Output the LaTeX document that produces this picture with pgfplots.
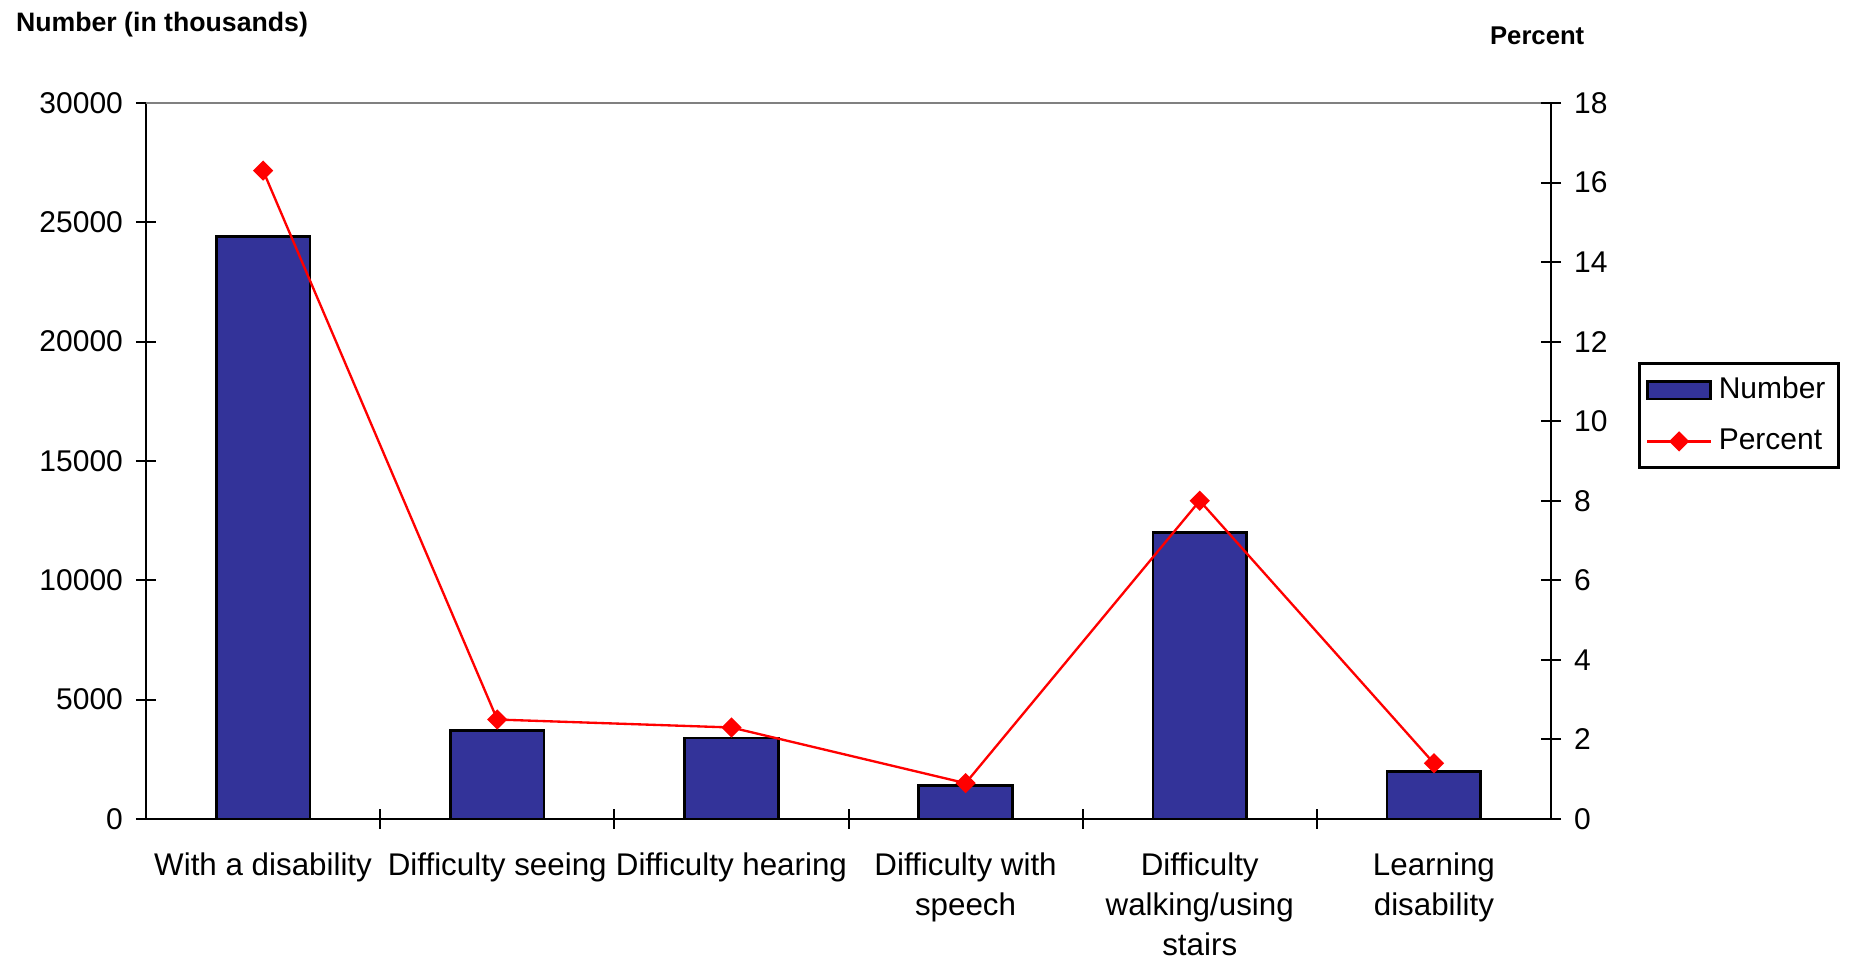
\documentclass[border=0pt]{standalone}
\usepackage{pgfplots}
\pgfplotsset{compat=1.18}
\usepackage{fontspec}
\setmainfont{Liberation Sans}
\definecolor{barblue}{RGB}{51,51,153}
\pgfplotsset{
  barleg/.style={legend image code/.code={\draw[##1] (0pt,-2.6pt) rectangle (19pt,2.6pt);}},
  lineleg/.style={legend image code/.code={\draw[mark repeat=2, mark phase=2, ##1] plot coordinates {(0pt,0pt) (9.5pt,0pt) (19pt,0pt)};}},
}
\begin{document}
\begin{tikzpicture}
\begin{axis}[name=ax, scale only axis, width=421.5pt, height=214.8pt,
  xmin=-0.5, xmax=5.5, ymin=0, ymax=30000,
  axis x line*=bottom, axis y line*=left,
  axis line style={line width=0.8pt, -},
  xtick={0,...,5},
  xticklabels={{With a disability},{Difficulty seeing},{Difficulty hearing},{Difficulty with\\speech},{Difficulty\\walking/using\\stairs},{Learning\\disability}},
  xticklabel style={align=center, font=\fontsize{9.4}{12}\selectfont, anchor=north},
  xticklabel shift=3.6pt,
  major x tick style={draw=none},
  minor xtick={0.5,1.5,2.5,3.5,4.5},
  minor x tick style={black, line width=0.6pt},
  minor tick length=6pt,
  ytick={0,5000,...,30000},
  scaled y ticks=false,
  tick align=center,
  major tick length=6pt,
  ytick style={black, line width=0.6pt},
  yticklabel style={font=\fontsize{9}{12}\selectfont},
  yticklabel shift=0.4pt,
  /pgf/number format/1000 sep={},
  /pgf/number format/assume math mode=true,
  clip=false,
]
\addplot[ybar, bar width=0.4, fill=barblue, draw=black, line width=0.8pt]
  coordinates {(0,24400) (1,3700) (2,3400) (3,1400) (4,12000) (5,2000)};
\draw[gray, line width=0.6pt] (rel axis cs:0,1) -- (rel axis cs:1,1);
\end{axis}
\begin{axis}[scale only axis, width=421.5pt, height=214.8pt,
  at={(ax.south west)}, anchor=south west,
  xmin=-0.5, xmax=5.5, ymin=0, ymax=18,
  axis x line=none, axis y line*=right,
  axis line style={line width=0.8pt, -},
  ytick={0,2,...,18},
  tick align=center,
  major tick length=6pt,
  ytick style={black, line width=0.6pt},
  yticklabel style={font=\fontsize{9}{12}\selectfont},
  yticklabel shift=0.4pt,
  /pgf/number format/assume math mode=true,
  clip=false,
  legend style={at={(1.062,0.638)}, anchor=north west, draw=black, line width=0.8pt,
    font=\fontsize{9}{11}\selectfont, row sep=3.5pt, inner sep=2pt},
  legend cell align=left,
]
\addlegendimage{barleg, fill=barblue, draw=black, line width=0.8pt}
\addlegendentry{Number}
\addplot[lineleg, red, line width=0.7pt, mark=square*, mark size=1.8pt, mark options={rotate=45, fill=red, draw=red}]
  coordinates {(0,16.3) (1,2.5) (2,2.3) (3,0.9) (4,8.0) (5,1.4)};
\addlegendentry{Percent}
\end{axis}
\node[anchor=base west, font=\bfseries\fontsize{8}{9.6}\selectfont] at ([xshift=-42.5pt, yshift=21.3pt]ax.north west) {Number (in thousands)};
\node[anchor=base west, font=\bfseries\fontsize{7.7}{9.6}\selectfont] at ([xshift=-21.8pt, yshift=17.4pt]ax.north east) {Percent};
\pgfresetboundingbox
\path ([xshift=-43.8pt,yshift=-42pt]ax.south west) rectangle ([xshift=89.4pt,yshift=30.9pt]ax.north east);
\end{tikzpicture}
\end{document}
